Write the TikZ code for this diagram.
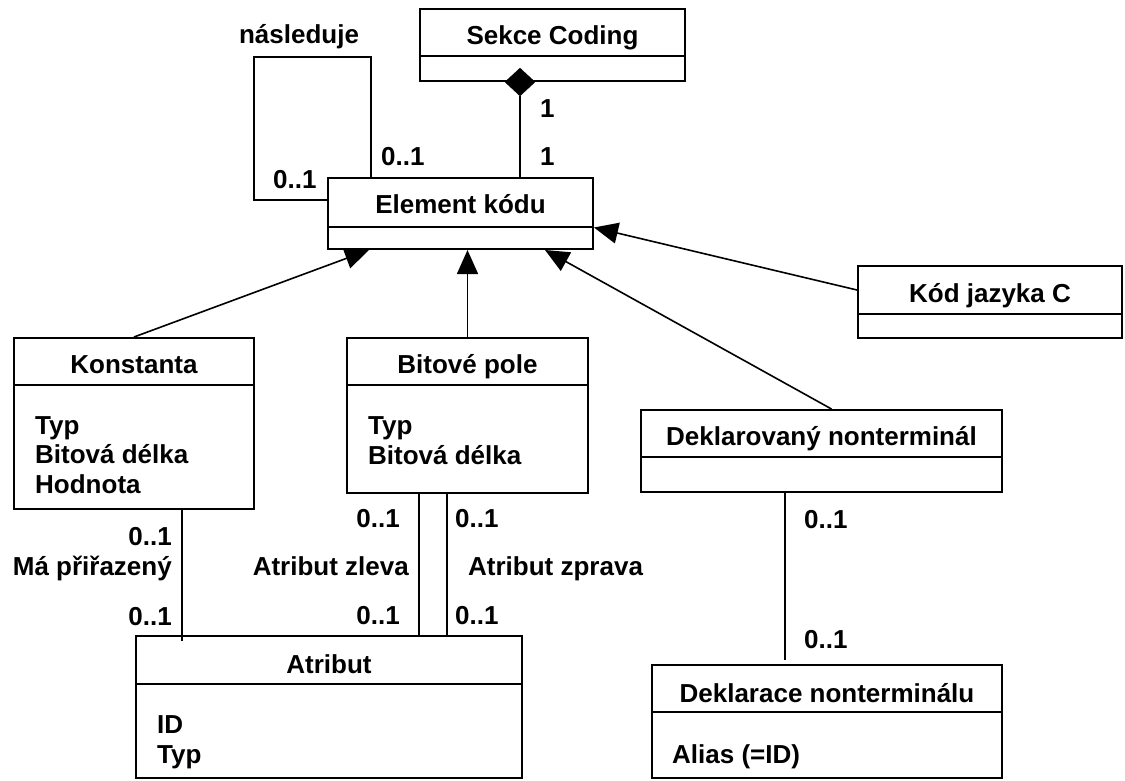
\documentclass[tikz,border=0pt]{standalone}
\usepackage{fontspec}
\setmainfont{Liberation Sans}
\usetikzlibrary{arrows.meta,shapes.geometric,calc,fit}

\begin{document}
\begin{tikzpicture}[x=1pt,y=-1pt,
  font=\fontsize{26}{30}\selectfont\bfseries,
  cls/.style={draw,line width=2pt,inner sep=0pt},
  divider/.style={line width=2pt},
  txt/.style={inner sep=0pt,anchor=base},
  txtl/.style={inner sep=0pt,anchor=base west},
  txtr/.style={inner sep=0pt,anchor=base east},
  assoc/.style={line width=1.6pt},
  gen/.style={line width=1.6pt,-{Triangle[length=24pt,width=21pt]}},
  compo/.style={diamond,fill=black,draw=black,inner sep=0pt,minimum width=30pt,minimum height=28pt}
]
\useasboundingbox (0,0) rectangle (1125,780);

% ---- classes ----
\node[cls,fit={(420,9) (685,81)}] (sc) {};
\draw[divider] ($(sc.north west)+(0,48)$) -- ($(sc.north east)+(0,48)$);
\node[txt] (sc-t) at (552.5,44) {Sekce Coding};

\node[cls,fit={(328,178) (593,249)}] (el) {};
\draw[divider] ($(el.north west)+(0,50)$) -- ($(el.north east)+(0,50)$);
\node[txt] (el-t) at (460.5,213) {Element kódu};

\node[cls,fit={(858,266) (1122,338)}] (kc) {};
\draw[divider] ($(kc.north west)+(0,49)$) -- ($(kc.north east)+(0,49)$);
\node[txt] (kc-t) at (990,302) {Kód jazyka C};

\node[cls,fit={(14,338) (254,509)}] (ko) {};
\draw[divider] ($(ko.north west)+(0,48)$) -- ($(ko.north east)+(0,48)$);
\node[txt] (ko-t) at (134,373) {Konstanta};
\node[txtl] (ko-a1) at (35,434) {Typ};
\node[txtl] (ko-a2) at (35,463) {Bitová délka};
\node[txtl] (ko-a3) at (35,493) {Hodnota};

\node[cls,fit={(347,338) (588,493)}] (bp) {};
\draw[divider] ($(bp.north west)+(0,48)$) -- ($(bp.north east)+(0,48)$);
\node[txt] (bp-t) at (467.5,373) {Bitové pole};
\node[txtl] (bp-a1) at (368,434) {Typ};
\node[txtl] (bp-a2) at (368,464) {Bitová délka};

\node[cls,fit={(641,410) (1002,492)}] (dn) {};
\draw[divider] ($(dn.north west)+(0,48)$) -- ($(dn.north east)+(0,48)$);
\node[txt] (dn-t) at (821.5,445) {Deklarovaný nonterminál};

\node[cls,fit={(136,636) (522,778)}] (at) {};
\draw[divider] ($(at.north west)+(0,49)$) -- ($(at.north east)+(0,49)$);
\node[txt] (at-t) at (329,673) {Atribut};
\node[txtl] (at-a1) at (157,733) {ID};
\node[txtl] (at-a2) at (157,763) {Typ};

\node[cls,fit={(652,665) (1002,778)}] (dc) {};
\draw[divider] ($(dc.north west)+(0,48)$) -- ($(dc.north east)+(0,48)$);
\node[txt] (dc-t) at (827,702) {Deklarace nonterminálu};
\node[txtl] (dc-a1) at (672,763) {Alias (=ID)};

% ---- self association "následuje" ----
\coordinate (loopIn) at ($(el.north west)+(0,23)$);
\coordinate (loopOut) at ($(el.north west)+(44,0)$);
\coordinate (loopCorner) at (254,57);
\draw[assoc] (loopIn) -| (loopCorner) -| (loopOut);
\node[txt] (lp-n) at (299,43) {následuje};
\node[txtl] (lp-m1) at (381,165) {0..1};
\node[txtl] (lp-m2) at (273,188) {0..1};

% ---- composition ----
\node[compo] (cd) at ($(sc.south west)+(101,0)$) {};
\draw[assoc] (cd.south) -- (cd.south |- el.north);
\node[txtl] (cd-m1) at (540,117) {1};
\node[txtl] (cd-m2) at (540,165) {1};

% ---- generalizations ----
\draw[gen] (ko.north) -- ($(el.south west)+(42,0)$);
\draw[gen] (bp.north) -- (bp.north |- el.south);
\draw[gen] ($(dn.north)+(10,0)$) -- ($(el.south west)+(218,0)$);
\draw[gen] ($(kc.west)+(0,-12)$) -- ($(el.east)+(0,14)$);

% ---- associations ----
\coordinate (koA) at ($(ko.south west)+(169,0)$);
\draw[assoc] (koA) -- ($(koA |- at.north)+(0,6)$);
\node[txtr] (ko-m1) at (172,545) {0..1};
\node[txtr] (ko-n) at (172,575) {Má přiřazený};
\node[txtr] (ko-m2) at (172,625) {0..1};

\coordinate (bpL) at ($(bp.south west)+(73,0)$);
\coordinate (bpR) at ($(bp.south west)+(101,0)$);
\draw[assoc] (bpL) -- (bpL |- at.north);
\draw[assoc] (bpR) -- (bpR |- at.north);
\node[txtr] (bl-m1) at (400,527) {0..1};
\node[txtr] (bl-n) at (409,575) {Atribut zleva};
\node[txtr] (bl-m2) at (400,624) {0..1};
\node[txtl] (br-m1) at (455,527) {0..1};
\node[txtl] (br-n) at (468,575) {Atribut zprava};
\node[txtl] (br-m2) at (455,624) {0..1};

\coordinate (dnA) at ($(dn.south west)+(145,0)$);
\draw[assoc] (dnA) -- ($(dnA |- dc.north)+(0,-4)$);
\node[txtl] (dn-m1) at (804,528) {0..1};
\node[txtl] (dn-m2) at (804,648) {0..1};
\end{tikzpicture}
\end{document}
